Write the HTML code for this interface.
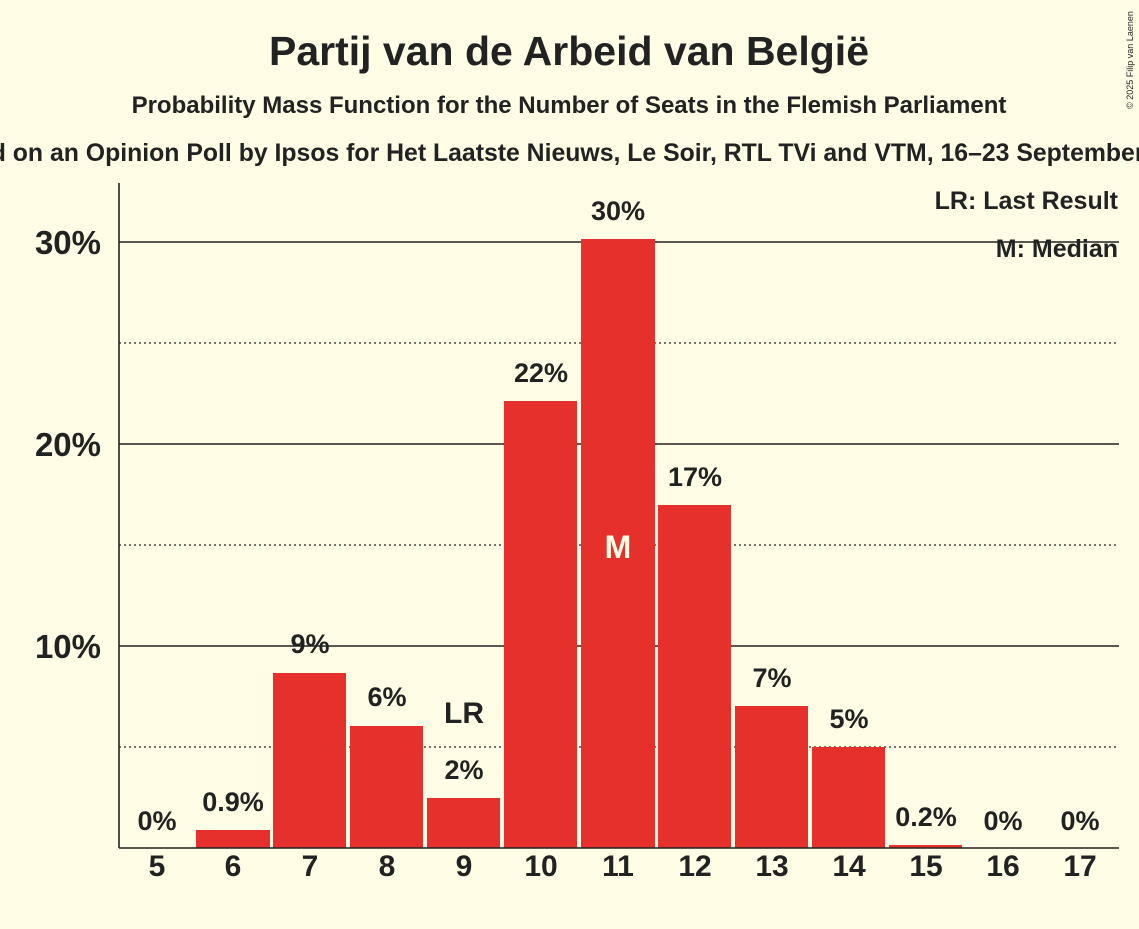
<!DOCTYPE html>
<html><head><meta charset="utf-8"><style>
body{margin:0;background:#fffde5;}
svg text{font-family:"Liberation Sans",sans-serif;font-weight:bold;fill:#222;}
</style></head><body>
<svg width="1139" height="924" xmlns="http://www.w3.org/2000/svg">
<rect width="1139" height="924" fill="#fffde5"/>
<text x="569" y="65" font-size="41" text-anchor="middle">Partij van de Arbeid van België</text>
<text x="569" y="113" font-size="24" text-anchor="middle">Probability Mass Function for the Number of Seats in the Flemish Parliament</text>
<text x="569" y="161" font-size="24.8" text-anchor="middle">Based on an Opinion Poll by Ipsos for Het Laatste Nieuws, Le Soir, RTL TVi and VTM, 16–23 September 2024</text>
<text x="1133" y="60" font-size="9" transform="rotate(-90 1133 60)" text-anchor="middle" style="font-weight:normal">© 2025 Filip van Laenen</text>
<g stroke="#222" stroke-width="1.3" stroke-dasharray="2,3">
<line x1="119" x2="1119" y1="747" y2="747"/><line x1="119" x2="1119" y1="545" y2="545"/><line x1="119" x2="1119" y1="343" y2="343"/>
</g>
<g stroke="#222" stroke-width="1.6">
<line x1="119" x2="1119" y1="646" y2="646"/><line x1="119" x2="1119" y1="444" y2="444"/><line x1="119" x2="1119" y1="242" y2="242"/>
</g>
<g font-size="33" text-anchor="end">
<text x="101" y="658">10%</text><text x="101" y="456">20%</text><text x="101" y="254">30%</text>
</g>
<g fill="#e5302c">
<rect x="196" y="830" width="74" height="18"/>
<rect x="273" y="673" width="73" height="175"/>
<rect x="350" y="726" width="73" height="122"/>
<rect x="427" y="798" width="73" height="50"/>
<rect x="504" y="401" width="73" height="447"/>
<rect x="581" y="239" width="74" height="609"/>
<rect x="658" y="505" width="73" height="343"/>
<rect x="735" y="706" width="73" height="142"/>
<rect x="812" y="747" width="73" height="101"/>
<rect x="889" y="845" width="73" height="3"/>
</g>
<text x="1118" y="209" font-size="25" text-anchor="end">LR: Last Result</text>
<text x="1118" y="257" font-size="25" text-anchor="end">M: Median</text>
<line x1="119" y1="183" x2="119" y2="848" stroke="#222" stroke-width="1.6"/>
<line x1="119" y1="848" x2="1119" y2="848" stroke="#222" stroke-width="1.6"/>
<g font-size="27" text-anchor="middle">
<text x="157" y="830">0%</text><text x="233" y="811">0.9%</text><text x="310" y="653">9%</text>
<text x="387" y="706">6%</text><text x="464" y="779">2%</text><text x="541" y="382">22%</text>
<text x="618" y="220">30%</text><text x="695" y="486">17%</text><text x="772" y="687">7%</text>
<text x="849" y="728">5%</text><text x="926" y="826">0.2%</text><text x="1003" y="830">0%</text><text x="1080" y="830">0%</text>
<text x="464" y="723" font-size="30">LR</text>
<text x="618" y="558" font-size="32" style="fill:#fffde5">M</text>
</g>
<g font-size="30" text-anchor="middle">
<text x="157" y="876">5</text><text x="233" y="876">6</text><text x="310" y="876">7</text><text x="387" y="876">8</text>
<text x="464" y="876">9</text><text x="541" y="876">10</text><text x="618" y="876">11</text><text x="695" y="876">12</text>
<text x="772" y="876">13</text><text x="849" y="876">14</text><text x="926" y="876">15</text><text x="1003" y="876">16</text><text x="1080" y="876">17</text>
</g>
</svg>
</body></html>
